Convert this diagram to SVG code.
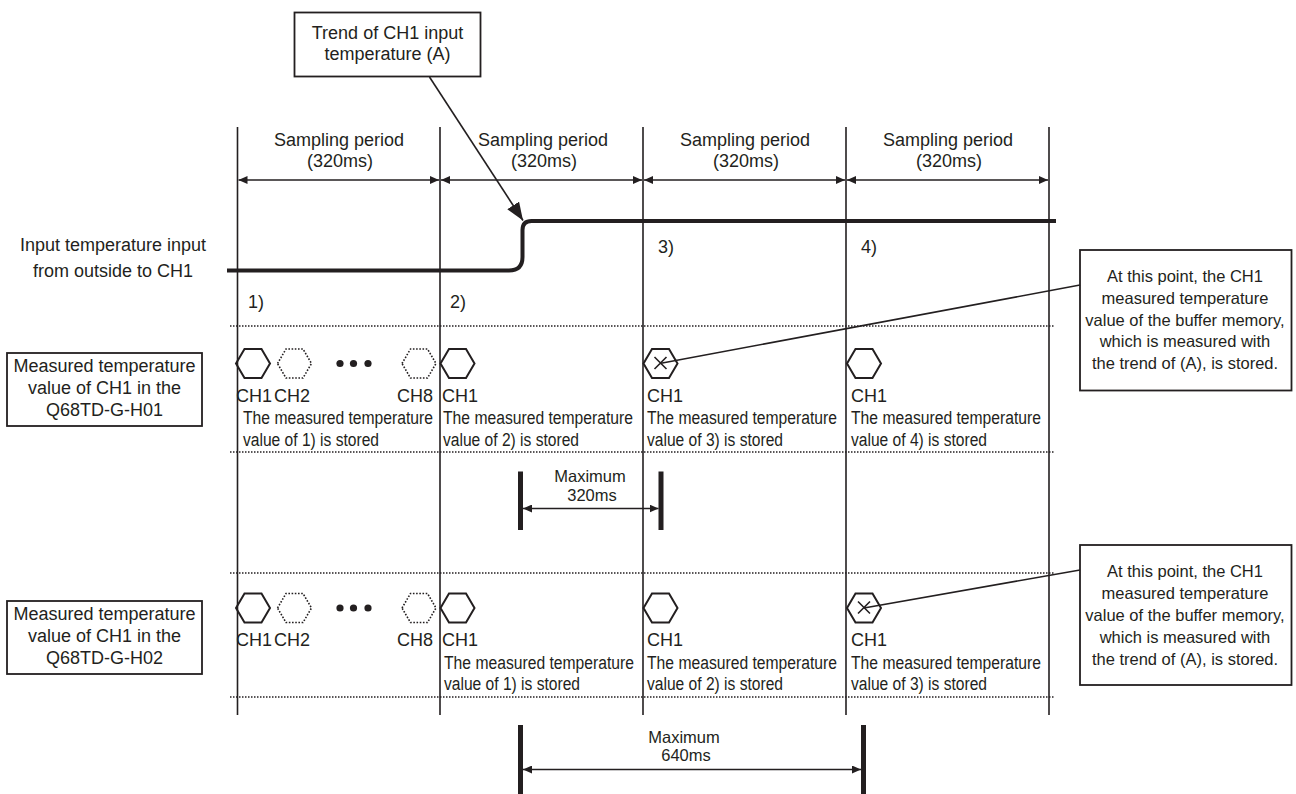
<svg xmlns="http://www.w3.org/2000/svg" xmlns:xlink="http://www.w3.org/1999/xlink" width="1296" height="794" viewBox="0 0 1296 794">
<style>
  text { font-family: "Liberation Sans", Arial, sans-serif; fill: #231f20; }
  .t18 { font-size: 18px; }
  .t16 { font-size: 16.5px; }
  .mid { text-anchor: middle; }
  .end { text-anchor: end; }
  .vline { stroke: #231f20; stroke-width: 1.6; fill: none; }
  .dot { stroke: #231f20; stroke-width: 1.5; stroke-dasharray: 1.5 1.5; fill: none; }
  .box { stroke: #231f20; stroke-width: 1.8; fill: #fff; }
  .arr { stroke: #231f20; stroke-width: 1.4; fill: none; marker-start: url(#ah); marker-end: url(#ah); }
  .lead { stroke: #231f20; stroke-width: 1.6; fill: none; }
  .hex { stroke: #231f20; stroke-width: 2; fill: none; }
  .hexd { stroke: #231f20; stroke-width: 1.6; stroke-dasharray: 1.6 1.6; fill: none; }
  .bar { fill: #231f20; }
</style>
<defs>
  <marker id="ah" markerUnits="userSpaceOnUse" markerWidth="9" markerHeight="8" refX="9" refY="4" orient="auto-start-reverse">
    <path d="M0,0 L9,4 L0,8 Z" fill="#231f20"/>
  </marker>
  <marker id="big" markerUnits="userSpaceOnUse" markerWidth="18" markerHeight="14" refX="18" refY="7" orient="auto">
    <path d="M0,0 L18,7 L0,14 Z" fill="#231f20"/>
  </marker>
  <polygon id="hx" points="-17,0 -8.5,-14.5 8.5,-14.5 17,0 8.5,14.5 -8.5,14.5"/>
  <path id="xm" d="M-6,-6 L6,6 M6,-6 L-6,6"/>
</defs>

<g id="grid">
  <line class="vline" x1="237.5" y1="127" x2="237.5" y2="715"/>
  <line class="vline" x1="440" y1="127" x2="440" y2="715"/>
  <line class="vline" x1="643" y1="127" x2="643" y2="715"/>
  <line class="vline" x1="846" y1="127" x2="846" y2="715"/>
  <line class="vline" x1="1049" y1="127" x2="1049" y2="715"/>
  <line class="dot" x1="230" y1="326" x2="1054" y2="326"/>
  <line class="dot" x1="230" y1="452" x2="1054" y2="452"/>
  <line class="dot" x1="230" y1="573" x2="1054" y2="573"/>
  <line class="dot" x1="230" y1="697" x2="1054" y2="697"/>
</g>

<g id="sampling">
  <text class="t18 mid" x="339" y="145.5">Sampling period</text>
  <text class="t18 mid" x="340" y="166.5">(320ms)</text>
  <text class="t18 mid" x="543" y="145.5">Sampling period</text>
  <text class="t18 mid" x="544" y="166.5">(320ms)</text>
  <text class="t18 mid" x="745" y="145.5">Sampling period</text>
  <text class="t18 mid" x="746" y="166.5">(320ms)</text>
  <text class="t18 mid" x="948" y="145.5">Sampling period</text>
  <text class="t18 mid" x="949" y="166.5">(320ms)</text>
</g>

<g id="trend-box">
  <rect class="box" x="294.5" y="12.5" width="186" height="64"/>
  <text class="t18 mid" x="387.5" y="38.5">Trend of CH1 input</text>
  <text class="t18 mid" x="387.5" y="60">temperature (A)</text>
</g>

<g id="input-label">
  <text class="t18 mid" x="113" y="250.5">Input temperature input</text>
  <text class="t18 mid" x="113" y="277">from outside to CH1</text>
</g>

<g id="input-signal">
  <path d="M227,270.5 H509 Q522.5,270.5 522.5,257 V230 Q522.5,221 531.5,221 H1056" stroke="#231f20" stroke-width="4" fill="none"/>
  <text class="t18" x="248" y="307.5">1)</text>
  <text class="t18" x="450" y="307.5">2)</text>
  <text class="t18" x="658" y="252.5">3)</text>
  <text class="t18" x="861" y="252.5">4)</text>
</g>

<g id="box-h01">
  <rect class="box" x="7" y="353" width="195" height="73"/>
  <text class="t18 mid" x="104.5" y="371.5">Measured temperature</text>
  <text class="t18 mid" x="104.5" y="393.5">value of CH1 in the</text>
  <text class="t18 mid" x="104.5" y="416">Q68TD-G-H01</text>
</g>

<g id="box-h02">
  <rect class="box" x="7" y="601" width="195" height="73"/>
  <text class="t18 mid" x="104.5" y="619.5">Measured temperature</text>
  <text class="t18 mid" x="104.5" y="641.5">value of CH1 in the</text>
  <text class="t18 mid" x="104.5" y="664">Q68TD-G-H02</text>
</g>

<g id="row-h01">
  <use href="#hx" class="hex" x="253" y="363.5"/>
  <use href="#hx" class="hexd" x="294.5" y="363.5"/>
  <circle cx="340" cy="363.5" r="3.6" fill="#231f20"/>
  <circle cx="353.5" cy="363.5" r="3.6" fill="#231f20"/>
  <circle cx="368" cy="363.5" r="3.6" fill="#231f20"/>
  <use href="#hx" class="hexd" x="419" y="363.5"/>
  <use href="#hx" class="hex" x="457.5" y="363.5"/>
  <use href="#hx" class="hex" x="660.5" y="363.5"/>
  <use href="#xm" class="lead" x="660.5" y="363"/>
  <use href="#hx" class="hex" x="864" y="363.5"/>
  <text class="t18" x="236" y="401.5">CH1</text>
  <text class="t18" x="274" y="401.5">CH2</text>
  <text class="t18 end" x="433" y="401.5">CH8</text>
  <text class="t18" x="442" y="401.5">CH1</text>
  <text class="t18" x="647" y="401.5">CH1</text>
  <text class="t18" x="851" y="401.5">CH1</text>
  <text class="t18" x="243" y="424" textLength="190" lengthAdjust="spacingAndGlyphs">The measured temperature</text>
  <text class="t18" x="243" y="445.5" textLength="136" lengthAdjust="spacingAndGlyphs">value of 1) is stored</text>
  <text class="t18" x="443" y="424" textLength="190" lengthAdjust="spacingAndGlyphs">The measured temperature</text>
  <text class="t18" x="443" y="445.5" textLength="136" lengthAdjust="spacingAndGlyphs">value of 2) is stored</text>
  <text class="t18" x="647" y="424" textLength="190" lengthAdjust="spacingAndGlyphs">The measured temperature</text>
  <text class="t18" x="647" y="445.5" textLength="136" lengthAdjust="spacingAndGlyphs">value of 3) is stored</text>
  <text class="t18" x="851" y="424" textLength="190" lengthAdjust="spacingAndGlyphs">The measured temperature</text>
  <text class="t18" x="851" y="445.5" textLength="136" lengthAdjust="spacingAndGlyphs">value of 4) is stored</text>
</g>

<g id="row-h02">
  <use href="#hx" class="hex" x="253" y="608"/>
  <use href="#hx" class="hexd" x="294.5" y="608"/>
  <circle cx="340" cy="608" r="3.6" fill="#231f20"/>
  <circle cx="353.5" cy="608" r="3.6" fill="#231f20"/>
  <circle cx="368" cy="608" r="3.6" fill="#231f20"/>
  <use href="#hx" class="hexd" x="419" y="608"/>
  <use href="#hx" class="hex" x="457.5" y="608"/>
  <use href="#hx" class="hex" x="660.5" y="608"/>
  <use href="#hx" class="hex" x="864" y="608"/>
  <use href="#xm" class="lead" x="864" y="607.5"/>
  <text class="t18" x="236" y="646">CH1</text>
  <text class="t18" x="274" y="646">CH2</text>
  <text class="t18 end" x="433" y="646">CH8</text>
  <text class="t18" x="442" y="646">CH1</text>
  <text class="t18" x="647" y="646">CH1</text>
  <text class="t18" x="851" y="646">CH1</text>
  <text class="t18" x="444" y="668.5" textLength="190" lengthAdjust="spacingAndGlyphs">The measured temperature</text>
  <text class="t18" x="444" y="690" textLength="136" lengthAdjust="spacingAndGlyphs">value of 1) is stored</text>
  <text class="t18" x="647" y="668.5" textLength="190" lengthAdjust="spacingAndGlyphs">The measured temperature</text>
  <text class="t18" x="647" y="690" textLength="136" lengthAdjust="spacingAndGlyphs">value of 2) is stored</text>
  <text class="t18" x="851" y="668.5" textLength="190" lengthAdjust="spacingAndGlyphs">The measured temperature</text>
  <text class="t18" x="851" y="690" textLength="136" lengthAdjust="spacingAndGlyphs">value of 3) is stored</text>
</g>

<g id="callout-1">
  <rect class="box" x="1080" y="250" width="211.5" height="140.5"/>
  <text class="t16 mid" x="1185" y="281.5">At this point, the CH1</text>
  <text class="t16 mid" x="1185" y="303.5">measured temperature</text>
  <text class="t16 mid" x="1185" y="325.5">value of the buffer memory,</text>
  <text class="t16 mid" x="1185" y="347">which is measured with</text>
  <text class="t16 mid" x="1185" y="369">the trend of (A), is stored.</text>
</g>

<g id="callout-2">
  <rect class="box" x="1080" y="545" width="211.5" height="140"/>
  <text class="t16 mid" x="1185" y="577">At this point, the CH1</text>
  <text class="t16 mid" x="1185" y="599">measured temperature</text>
  <text class="t16 mid" x="1185" y="621">value of the buffer memory,</text>
  <text class="t16 mid" x="1185" y="643">which is measured with</text>
  <text class="t16 mid" x="1185" y="665">the trend of (A), is stored.</text>
</g>

<g id="max-320">
  <rect class="bar" x="518" y="471.5" width="5" height="58.5"/>
  <rect class="bar" x="658.5" y="471.5" width="5" height="58.5"/>
  <text class="t16 mid" x="590" y="482">Maximum</text>
  <text class="t16 mid" x="592" y="501">320ms</text>
</g>

<g id="max-640">
  <rect class="bar" x="518" y="725" width="5" height="69"/>
  <rect class="bar" x="861" y="725" width="5" height="69"/>
  <text class="t16 mid" x="684" y="742.5">Maximum</text>
  <text class="t16 mid" x="686" y="761">640ms</text>
</g>

<g id="connectors">
  <line class="arr" x1="238.5" y1="180" x2="439" y2="180"/>
  <line class="arr" x1="441" y1="180" x2="642" y2="180"/>
  <line class="arr" x1="644" y1="180" x2="845" y2="180"/>
  <line class="arr" x1="847" y1="180" x2="1048" y2="180"/>
  <line class="lead" x1="429.5" y1="77" x2="523" y2="220.5" marker-end="url(#big)"/>
  <line class="lead" x1="1080" y1="285" x2="661" y2="363.3"/>
  <line class="lead" x1="1080" y1="570" x2="864" y2="608"/>
  <line class="arr" x1="523" y1="508.5" x2="658.5" y2="508.5"/>
  <line class="arr" x1="523" y1="769.5" x2="861" y2="769.5"/>
</g>
</svg>
